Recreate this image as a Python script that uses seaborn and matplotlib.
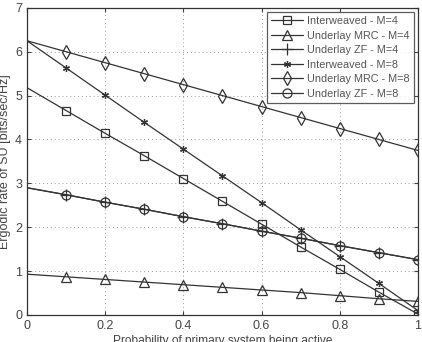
import numpy as np
import matplotlib
matplotlib.use("Agg")
import matplotlib.pyplot as plt
import seaborn as sns

# probability of primary system being active
p = [0.0, 0.1, 0.2, 0.3, 0.4, 0.5, 0.6, 0.7, 0.8, 0.9, 1.0]

interweaved_m4 = [5.18, 4.66, 4.14, 3.63, 3.11, 2.59, 2.07, 1.55, 1.04, 0.52, 0.02]
underlay_mrc_m4 = [0.93, 0.87, 0.81, 0.75, 0.69, 0.63, 0.57, 0.51, 0.44, 0.37, 0.31]
underlay_zf_m4 = [2.90, 2.74, 2.57, 2.41, 2.24, 2.08, 1.91, 1.75, 1.58, 1.42, 1.26]
interweaved_m8 = [6.25, 5.63, 5.01, 4.39, 3.78, 3.17, 2.56, 1.94, 1.33, 0.72, 0.10]
underlay_mrc_m8 = [6.25, 6.00, 5.75, 5.50, 5.25, 5.00, 4.75, 4.50, 4.25, 4.00, 3.75]
underlay_zf_m8 = [2.90, 2.74, 2.57, 2.41, 2.24, 2.08, 1.91, 1.75, 1.58, 1.42, 1.26]

labels = ["Interweaved - M=4", "Underlay MRC - M=4", "Underlay ZF - M=4",
          "Interweaved - M=8", "Underlay MRC - M=8", "Underlay ZF - M=8"]
series = [interweaved_m4, underlay_mrc_m4, underlay_zf_m4,
          interweaved_m8, underlay_mrc_m8, underlay_zf_m8]
# (6, 2, 0) is an asterisk, like the matlab '*'
markers = ["s", "^", "+", (6, 2, 0), "d", "o"]
msizes = [5.5, 7, 8, 5, 7.5, 6.5]

sns.set_style("white")
plt.rcParams["font.family"] = ["Liberation Sans", "DejaVu Sans"]

fig = plt.figure(figsize=(4.22, 3.42), dpi=100)
ax = fig.add_axes([0.064, 0.079, 0.9265, 0.898])

for y, lab, m, ms in zip(series, labels, markers, msizes):
    sns.lineplot(x=p, y=y, ax=ax, color="#333333", linewidth=0.9,
                 marker=m, markersize=ms, markevery=slice(1, None),
                 markerfacecolor="none", markeredgecolor="#333333",
                 markeredgewidth=0.9, label=lab)

ax.set_xlim(0, 1)
ax.set_ylim(0, 7)
ax.set_xticks([0, 0.2, 0.4, 0.6, 0.8, 1])
ax.set_xticklabels(["0", "0.2", "0.4", "0.6", "0.8", "1"])
ax.set_yticks(range(8))
ax.grid(True, linestyle=(0, (1, 3)), color="#999999", linewidth=0.7)
ax.tick_params(direction="in", length=3, labelsize=9, colors="#444444",
               top=True, right=True, bottom=True, left=True)
for s in ax.spines.values():
    s.set_color("#333333")
    s.set_linewidth(0.9)

ax.set_xlabel("Probability of primary system being active", fontsize=8.6,
              labelpad=2, color="#444444")
ax.set_ylabel("Ergodic rate of SU [bits/sec/Hz]", fontsize=9,
              labelpad=3, color="#444444")

leg = ax.legend(loc="upper right", fontsize=7.8, frameon=True, fancybox=False,
                edgecolor="#333333", handlelength=2.9, borderpad=0.4,
                labelspacing=0.42, borderaxespad=0.35, handletextpad=0.4)
leg.get_frame().set_linewidth(0.9)
for t in leg.get_texts():
    t.set_color("#555555")

fig.savefig("out.png", dpi=100)
